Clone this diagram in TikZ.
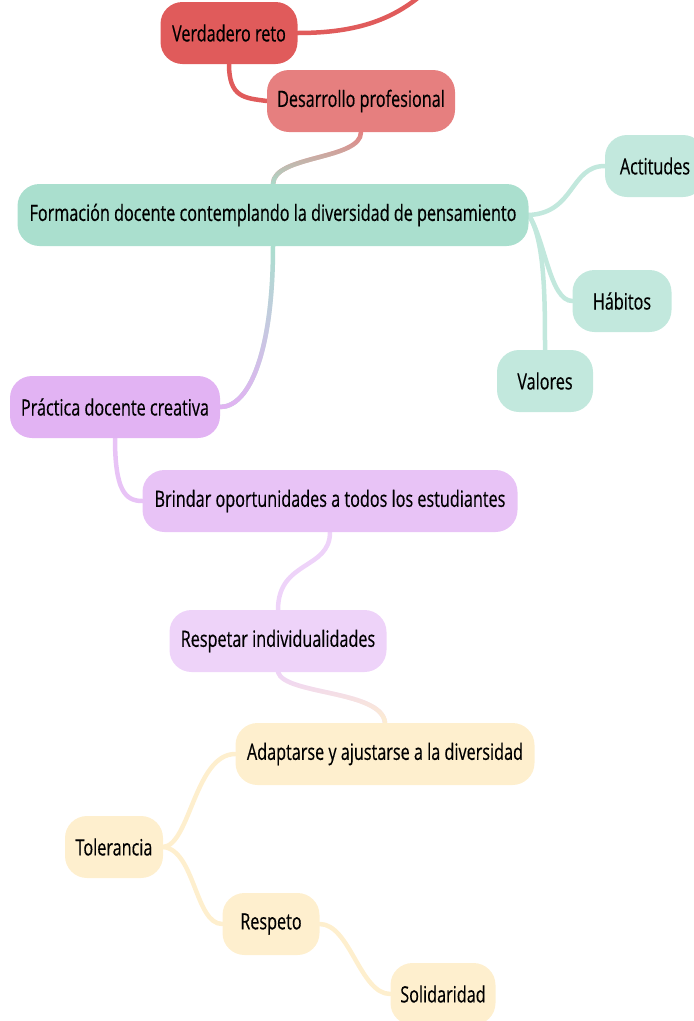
\documentclass[tikz,border=0pt]{standalone}
\usepackage{fontspec}
\setmainfont{Open Sans}[FakeStretch=0.72, FakeBold=0.4]
\usetikzlibrary{fadings,backgrounds}

\definecolor{rojo}{HTML}{E05B5B}
\definecolor{rosa}{HTML}{E67F7F}
\definecolor{verde}{HTML}{AADFCE}
\definecolor{verdeclaro}{HTML}{C2E8DD}
\definecolor{lila}{HTML}{E2B3F3}
\definecolor{lilaclaro}{HTML}{E8C3F6}
\definecolor{lilapalido}{HTML}{EED3F9}
\definecolor{crema}{HTML}{FEEFCE}

\tikzset{
  tema/.style={rounded corners=22pt, minimum height=62pt, inner sep=0pt,
    font=\fontsize{22.5}{26}\selectfont, text=black},
  rama/.style={line width=4.5pt, line cap=round},
}

\begin{document}
\begin{tikzpicture}[x=1pt, y=-1pt]
  \useasboundingbox (0,0) rectangle (694,1021);

  % nodes
  \node [tema, fill=rojo, minimum width=137pt](vr) at (229,33) {Verdadero reto};
  \node [tema, fill=rosa, minimum width=188pt](dp) at (361,101) {Desarrollo profesional};
  \node [tema, fill=verde, minimum width=511pt](fd) at (273,215) {Formación docente contemplando la diversidad de pensamiento};
  \node [tema, fill=verdeclaro, minimum width=100pt](ac) at (655,166) {Actitudes};
  \node [tema, fill=verdeclaro, minimum width=99pt](ha) at (622,301) {Hábitos};
  \node [tema, fill=verdeclaro, minimum width=96pt](va) at (545,381) {Valores};
  \node [tema, fill=lila, minimum width=210pt](pd) at (115,407) {Práctica docente creativa};
  \node [tema, fill=lilaclaro, minimum width=375pt](bo) at (330,501) {Brindar oportunidades a todos los estudiantes};
  \node [tema, fill=lilapalido, minimum width=217pt](ri) at (278,641) {Respetar individualidades};
  \node [tema, fill=crema, minimum width=299pt](ad) at (385,754) {Adaptarse y ajustarse a la diversidad};
  \node [tema, fill=crema, minimum width=98pt](to) at (114,847) {Tolerancia};
  \node [tema, fill=crema, minimum width=97pt](re) at (271,924) {Respeto};
  \node [tema, fill=crema, minimum width=105pt](so) at (443,994) {Solidaridad};

  \coordinate (arriba) at (425,-8);

  % connectors
  \begin{scope}[on background layer]
  \draw [rama, rojo] (vr.east) .. controls (360,33) and (395,18) .. (arriba);
  \draw [rama, rojo] (vr.south) .. controls (229,98) and (245,98) .. (dp.west);
  \draw [rama, rosa] (dp.south) .. controls (361,160) and (274,155) .. (fd.north);
  \draw [rama, verde, path fading=north] (dp.south) .. controls (361,160) and (274,155) .. (fd.north);
  \draw [rama, verdeclaro] (fd.east) .. controls (575,213) and (570,166) .. (ac.west);
  \draw [rama, verdeclaro] (fd.east) .. controls (545,240) and (550,301) .. (ha.west);
  \draw [rama, verdeclaro] (fd.east) .. controls (545,240) and (545,300) .. (va.north);
  \draw [rama, verde] (fd.south) .. controls (273,350) and (250,407) .. (pd.east);
  \draw [rama, lila, path fading=north] (fd.south) .. controls (273,350) and (250,407) .. (pd.east);
  \draw [rama, lilaclaro] (pd.south) .. controls (115,490) and (125,501) .. (bo.west);
  \draw [rama, lilapalido] (bo.south) .. controls (330,570) and (278,560) .. (ri.north);
  \draw [rama, lilapalido] (ri.south) .. controls (285,695) and (382,690) .. (ad.north);
  \draw [rama, crema, path fading=north] (ri.south) .. controls (285,695) and (382,690) .. (ad.north);
  \draw [rama, crema] (to.east) .. controls (190,845) and (195,754) .. (ad.west);
  \draw [rama, crema] (to.east) .. controls (195,850) and (195,924) .. (re.west);
  \draw [rama, crema] (re.east) .. controls (350,924) and (360,994) .. (so.west);
  \end{scope}
\end{tikzpicture}
\end{document}
